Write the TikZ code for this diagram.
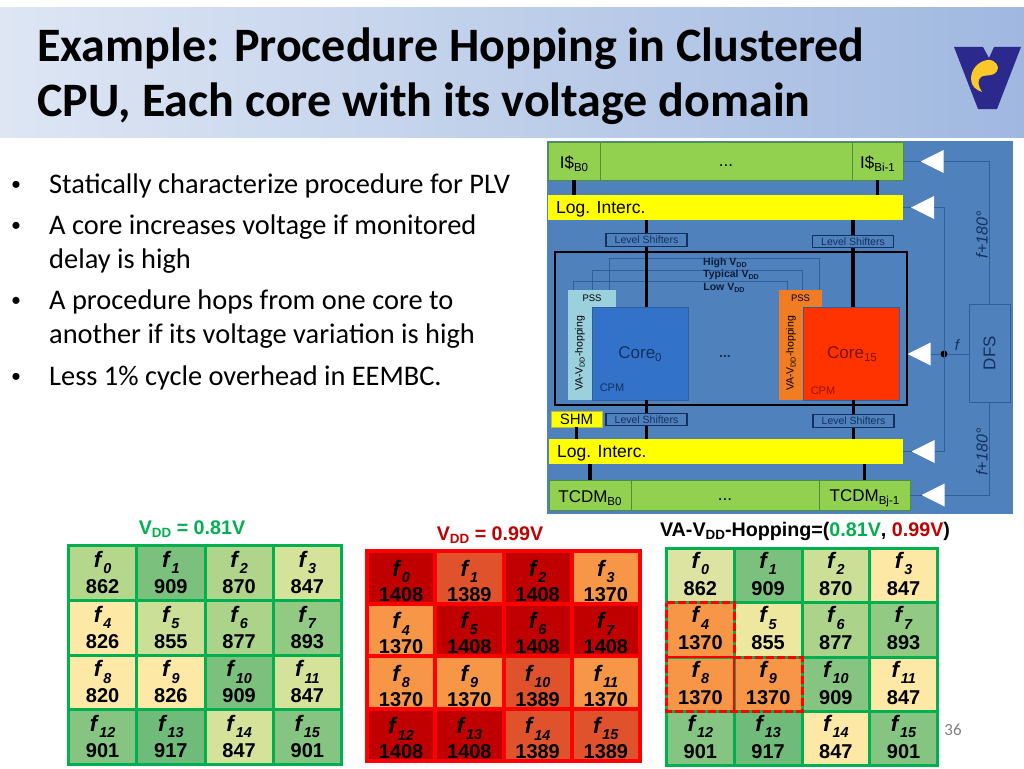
\documentclass[tikz,border=0pt]{standalone}
\usepackage{fontspec}
\usepackage{xcolor}
\setmainfont{Liberation Sans}
\newfontfamily\bodyfont{Carlito}
\usetikzlibrary{positioning,shapes.geometric}
\definecolor{chipbg}{HTML}{4F81BD}
\definecolor{chipwire}{HTML}{2F5F98}
\definecolor{navytxt}{HTML}{14305F}
\definecolor{barfill}{HTML}{92D050}
\definecolor{baredge}{HTML}{4E8F3A}
\definecolor{logyellow}{HTML}{FFFF00}
\definecolor{gridgreen}{HTML}{00B050}
\definecolor{volttxt}{HTML}{C00000}
\definecolor{hopred}{HTML}{FF0000}
\definecolor{redA}{HTML}{C00000}
\definecolor{redB}{HTML}{E0522C}
\definecolor{redC}{HTML}{F79646}
\definecolor{grA}{HTML}{B5D78B}
\definecolor{grB}{HTML}{7CC07E}
\definecolor{grC}{HTML}{B0D58A}
\definecolor{grD}{HTML}{D5E29A}
\definecolor{grE}{HTML}{FDE9A5}
\definecolor{grF}{HTML}{CBDF97}
\definecolor{grG}{HTML}{ABD38A}
\definecolor{grH}{HTML}{92CA84}
\definecolor{grI}{HTML}{85C481}
\definecolor{grJ}{HTML}{6FBB7A}
\definecolor{grK}{HTML}{DDE3A0}
\definecolor{grL}{HTML}{EDE79F}
\tikzset{
  blk/.style={draw=baredge, fill=barfill, line width=.8pt, inner sep=0pt, outer sep=0pt, anchor=north west},
  logbar/.style={fill=logyellow, inner sep=0pt, outer sep=0pt, anchor=north west},
  blktxt/.style={font=\fontsize{17}{20}\selectfont, inner sep=0pt, yshift=-3pt},
  dotstxt/.style={font=\fontsize{17}{20}\selectfont, inner sep=0pt, yshift=-5pt},
  lvlbox/.style={draw=navytxt, fill=chipbg, line width=1.3pt, inner sep=0pt, outer sep=0pt, text=navytxt, font=\fontsize{10.5}{12}\selectfont, minimum width=81pt, minimum height=12.5pt},
  railtxt/.style={font=\bfseries\fontsize{10.5}{12}\selectfont, text=navytxt!60!black, inner sep=0pt},
  busline/.style={line width=3.7pt, black},
  wire/.style={chipwire, line width=1pt},
  clkbuf/.style={isosceles triangle, isosceles triangle stretches, shape border rotate=180, fill=white, inner sep=0pt, outer sep=0pt, minimum width=23pt, minimum height=23pt},
  gridcell/.style={inner sep=0pt, outer sep=0pt, minimum width=#1},
  celltxt/.style={font=\fontsize{#1}{#1}\selectfont\bfseries, align=center, inner sep=0pt},
  headtxt/.style={font=\bfseries\fontsize{19.7}{22}\selectfont, inner sep=0pt},
  hopline/.style={hopred, line width=3pt}
}
\newcommand{\dn}[1]{\raisebox{-.35ex}{\scalebox{.68}{#1}}}
\newcommand{\fn}[1]{\scalebox{1.12}{\textit{f}}\raisebox{-.6ex}{\scalebox{.72}{\textit{#1}}}}
% #1 name, #2 #3 corner, #4 #5 cell size, #6 edge colour, #7 edge width, #8 text shift, #9 cells
\newcommand{\FreqGrid}[9]{
  \foreach \n/\clr/\val in {#9} {
    \pgfmathtruncatemacro{\cc}{mod(\n,4)}
    \pgfmathtruncatemacro{\rr}{int(\n/4)}
    \node[gridcell=#4pt, minimum height=#5pt, draw=#6, line width=#7pt, fill=\clr] (#1c\n) at ({#2+(\cc+.5)*#4},{#3+(\rr+.5)*#5}) {};
    \node[celltxt=20, yshift=#8] (#1f\n) at (#1c\n.center) {\fn{\n}};
    \node[celltxt=20, yshift=#8-\gridpitch] (#1v\n) at (#1c\n.center) {\val};
  }
}
\begin{document}
\begin{tikzpicture}[x=1pt,y=-1pt]
\useasboundingbox (0,0) rectangle (1024,768);
% title band
\shade[left color={rgb,255:red,222;green,230;blue,244}, right color={rgb,255:red,160;green,184;blue,224}] (0,8) rectangle (1024,137);
\node[anchor=west, align=left, inner sep=0pt, font=\bodyfont\bfseries\fontsize{48}{55}\selectfont] (title) at (37,76) {Example: Procedure Hopping in Clustered\\CPU, Each core with its voltage domain};
% logo
\fill[fill={rgb,255:red,43;green,42;blue,140}] (954,47) -- (983,47) -- (989,58) -- (994,47) -- (1021,47) -- (997,109) -- (978,109) -- cycle;
\fill[fill={rgb,255:red,250;green,200;blue,40}] (998,68) .. controls (997,61) and (990,59) .. (987,60) .. controls (977,62) and (971,70) .. (971,79) .. controls (971,86) and (976,90) .. (982,92) .. controls (978,86) and (977,80) .. (981,77) .. controls (985,74) and (996,78) .. (998,68);
% bullets
\foreach \yy/\txt [count=\i] in {174/{Statically characterize procedure for PLV},
  215/{A core increases voltage if monitored\\delay is high},
  290/{A procedure hops from one core to\\another if its voltage variation is high},
  366/{Less 1\% cycle overhead in EEMBC.}} {
  \node[anchor=north west, inner sep=0pt, yshift=-7pt, font=\bodyfont\fontsize{20}{24}\selectfont] (bul\i) at (11,\yy) {•};
  \node[anchor=north west, inner sep=0pt, align=left, font=\bodyfont\fontsize{28.4}{34}\selectfont] (item\i) at (49,\yy) {\txt};
}
% chip
\fill[chipbg] (547,141) rectangle (1013,514);
\node[blk, minimum width=52pt, minimum height=38pt] (ib0) at (548,142) {};
\node[blk, minimum width=252pt, minimum height=38pt, anchor=west, right=0pt of ib0] (ibmid) {};
\node[blk, minimum width=51pt, minimum height=38pt, anchor=west, right=0pt of ibmid] (ibn) {};
\node[blktxt] (ib0txt) at (ib0.center) {I\$\dn{B0}};
\node[dotstxt] (ibmidtxt) at (ibmid.center) {...};
\node[blktxt] (ibntxt) at (ibn.center) {I\$\dn{Bi-1}};
\node[logbar, minimum width=355pt, minimum height=25pt] (logtop) at (548,195) {};
\node[anchor=west, inner sep=0pt, font=\fontsize{17.5}{20}\selectfont] (logtoptxt) at (556,209) {Log. Interc.};
\node[blk, minimum width=82pt, minimum height=30pt] (tb0) at (549,480) {};
\node[blk, minimum width=188pt, minimum height=30pt, anchor=west, right=0pt of tb0] (tbmid) {};
\node[blk, minimum width=91pt, minimum height=30pt, anchor=west, right=0pt of tbmid] (tbn) {};
\node[blktxt] (tb0txt) at (tb0.center) {TCDM\dn{B0}};
\node[dotstxt] (tbmidtxt) at (tbmid.center) {...};
\node[blktxt] (tbntxt) at (tbn.center) {TCDM\dn{Bj-1}};
\node[logbar, minimum width=354pt, minimum height=25pt] (logbot) at (549,439) {};
\node[anchor=west, inner sep=0pt, font=\fontsize{17.5}{20}\selectfont] (logbottxt) at (557,453) {Log. Interc.};
\node[logbar, draw={rgb,255:red,180;green,190;blue,60}, line width=.8pt, minimum width=51pt, minimum height=16pt, font=\fontsize{15}{17}\selectfont] (shm) at (551,411) {SHM};
\node[draw=black, line width=1.6pt, inner sep=0pt, outer sep=0pt, minimum width=352pt, minimum height=153pt, anchor=north west] (frame) at (555,252) {};
% voltage rails
\draw[wire] (573,290) -- (573,281) -- (787,281) -- (787,290);
\draw[wire] (592,290) -- (592,270) -- (802,270) -- (802,290);
\draw[wire] (609,290) -- (609,258) -- (819,258) -- (819,290);
\node[railtxt] (railhi) at (725,263) {High V\dn{DD}};
\node[railtxt] (railty) at (731,275) {Typical V\dn{DD}};
\node[railtxt] (raillo) at (724,288) {Low V\dn{DD}};
% cores
\tikzset{pssbox/.style={inner sep=0pt, outer sep=0pt, anchor=north west, font=\fontsize{9.5}{11}\selectfont, minimum height=#1}}
\node[pssbox=17pt, fill={rgb,255:red,155;green,208;blue,221}, minimum width=48pt] (pss0) at (568,290) {PSS};
\node[pssbox=93pt, fill={rgb,255:red,155;green,208;blue,221}, minimum width=24pt] (va0) at (568,307) {};
\node[pssbox=93pt, fill={rgb,255:red,50;green,114;blue,200}, minimum width=96pt, draw=chipwire, line width=.5pt] (core0) at (592,307) {};
\node[pssbox=17pt, fill={rgb,255:red,240;green,125;blue,36}, minimum width=43pt] (pss1) at (779,290) {PSS};
\node[pssbox=93pt, fill={rgb,255:red,240;green,125;blue,36}, minimum width=24pt] (va1) at (779,307) {};
\node[pssbox=93pt, fill={rgb,255:red,255;green,51;blue,0}, minimum width=96pt, draw=chipwire, line width=.5pt] (core1) at (803,307) {};
\node[rotate=90, font=\fontsize{10.5}{12}\selectfont, inner sep=0pt] (va0txt) at (va0.center) {VA-V\dn{DD}-hopping};
\node[rotate=90, font=\fontsize{10.5}{12}\selectfont, inner sep=0pt] (va1txt) at (va1.center) {VA-V\dn{DD}-hopping};
\node[font=\fontsize{17}{20}\selectfont, text=navytxt, inner sep=0pt] (core0txt) at (640,354) {Core\dn{0}};
\node[font=\fontsize{17}{20}\selectfont, text={rgb,255:red,120;green,20;blue,0}, inner sep=0pt] (core1txt) at (852,354) {Core\dn{15}};
\node[font=\fontsize{11}{13}\selectfont, text=navytxt, inner sep=0pt] (cpm0) at (612,388) {CPM};
\node[font=\fontsize{11}{13}\selectfont, text={rgb,255:red,150;green,20;blue,0}, inner sep=0pt] (cpm1) at (823,391) {CPM};
\node[font=\bfseries\fontsize{14}{16}\selectfont, text=navytxt, inner sep=0pt] (coredots) at (725,356) {...};
% level shifters
\coordinate (ls0) at (646.5,240);
\coordinate (ls1) at (853,241.5);
\coordinate (ls2) at (646.5,419.5);
\coordinate (ls3) at (853.5,421);
\draw[busline] (ib0.south) -- (ib0.south |- logtop.north);
\draw[busline] (ibn.south) -- (ibn.south |- logtop.north);
\draw[busline] (ls0 |- logtop.south) -- (ls0 |- core0.north);
\draw[busline] (ls1 |- logtop.south) -- (ls1 |- core1.north);
\draw[busline] (ls2 |- core0.south) -- (ls2 |- logbot.north);
\draw[busline] (ls3 |- core1.south) -- (ls3 |- logbot.north);
\draw[busline] (shm.south) -- (shm.south |- logbot.north);
\draw[busline] (tb0.north) -- (tb0.north |- logbot.south);
\draw[busline] (tbn.north) -- (tbn.north |- logbot.south);
\node[lvlbox] (lvl0) at (ls0) {Level Shifters};
\node[lvlbox] (lvl1) at (ls1) {Level Shifters};
\node[lvlbox] (lvl2) at (ls2) {Level Shifters};
\node[lvlbox] (lvl3) at (ls3) {Level Shifters};
% clock
\node[draw=chipwire, line width=1pt, inner sep=0pt, outer sep=0pt, minimum width=41pt, minimum height=98pt, anchor=north west] (dfs) at (969,304) {};
\node[rotate=90, font=\fontsize{17}{20}\selectfont, text=navytxt, inner sep=0pt] (dfstxt) at (dfs.center) {DFS};
\node[clkbuf] (buf0) at (936.5,161.5) {};
\node[clkbuf] (buf1) at (927,207.5) {};
\node[clkbuf] (buf2) at (923.5,354) {};
\node[clkbuf] (buf3) at (927.5,451.5) {};
\node[clkbuf] (buf4) at (937.5,495) {};
\node[circle, fill=black, inner sep=0pt, minimum size=7pt] (clkdot) at (944,354) {};
\coordinate (clkup) at (944,207.5);
\coordinate (clkdn) at (944,451.5);
\draw[wire] (ibn.east |- buf0.apex) -- (buf0.apex);
\draw[wire] (buf0.lower side) -| (dfs.north);
\draw[wire] (logtop.east |- buf1.apex) -- (buf1.apex);
\draw[wire] (buf1.lower side) -- (clkup) -- (clkdn) -- (buf3.lower side);
\draw[wire] (logbot.east |- buf3.apex) -- (buf3.apex);
\draw[wire] (buf2.lower side) -- (clkdot) -- (dfs.west |- clkdot);
\draw[wire] (tbn.east |- buf4.apex) -- (buf4.apex);
\draw[wire] (buf4.lower side) -| (dfs.south);
\node[font=\itshape\fontsize{15}{18}\selectfont, text=navytxt, inner sep=0pt] (ftxt) at (957,345) {f};
\node[rotate=90, font=\itshape\fontsize{16}{18}\selectfont, text=navytxt, inner sep=0pt] (phup) at (982,235) {f+180°};
\node[rotate=90, font=\itshape\fontsize{16}{18}\selectfont, text=navytxt, inner sep=0pt] (phdn) at (982,452) {f+180°};
% grid headers
\node[headtxt, text=gridgreen] (hd0) at (192,529) {V\dn{DD} = 0.81V};
\node[headtxt, text=volttxt] (hd1) at (490,535) {V\dn{DD} = 0.99V};
\node[headtxt] (hd2) at (805,531) {VA-V\dn{DD}-Hopping=(\textcolor{gridgreen}{0.81V}, \textcolor{volttxt}{0.99V})};
% grids
\def\gridpitch{24}
\FreqGrid{ga}{68.5}{545.5}{68.25}{54.75}{gridgreen}{3}{10.5}{0/grA/862,1/grB/909,2/grC/870,3/grD/847,4/grE/826,5/grF/855,6/grG/877,7/grH/893,8/grE/820,9/grE/826,10/grB/909,11/grD/847,12/grI/901,13/grJ/917,14/grD/847,15/grI/901}
\def\gridpitch{23}
\FreqGrid{gb}{367}{551}{68.25}{52.5}{hopred}{4}{6}{0/redA/1408,1/redB/1389,2/redA/1408,3/redC/1370,4/redC/1370,5/redA/1408,6/redA/1408,7/redA/1408,8/redC/1370,9/redC/1370,10/redB/1389,11/redC/1370,12/redA/1408,13/redA/1408,14/redB/1389,15/redB/1389}
\def\gridpitch{25}
\FreqGrid{gc}{666.5}{548.5}{67.75}{54.25}{gridgreen}{3}{12}{0/grK/862,1/grB/909,2/grF/870,3/grE/847,4/redC/1370,5/grL/855,6/grG/877,7/grH/893,8/redC/1370,9/redC/1370,10/grI/909,11/grE/847,12/grI/901,13/grJ/917,14/grE/847,15/grI/901}
% hopped cells
\draw[hopline, dash pattern=on 8pt off 3pt] (gcc4.north west) -- (gcc4.north east) -- (gcc9.north west) -- (gcc9.north east) -- (gcc9.south east) -- (gcc8.south west) -- cycle;
\draw[hopred, line width=2pt] (gcc8.north west) -- (gcc8.north east) -- (gcc8.south east);
\node[text=gray, font=\bodyfont\fontsize{17}{20}\selectfont, inner sep=0pt] (pagenum) at (953,730) {36};
\end{tikzpicture}
\end{document}
